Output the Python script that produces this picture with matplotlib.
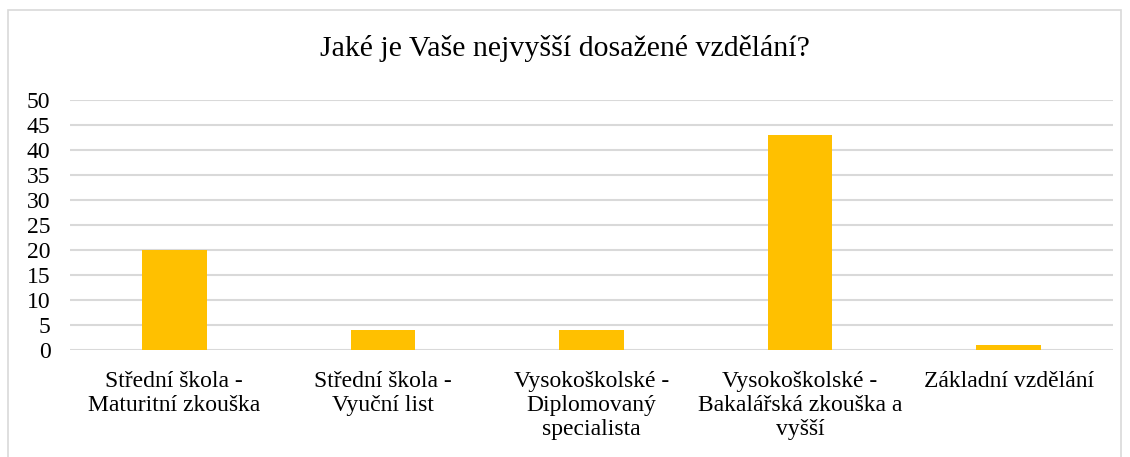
import matplotlib.pyplot as plt
from matplotlib.patches import Rectangle

# Data
categories = [
    "Střední škola -\nMaturitní zkouška",
    "Střední škola -\nVyuční list",
    "Vysokoškolské -\nDiplomovaný\nspecialista",
    "Vysokoškolské -\nBakalářská zkouška a\nvyšší",
    "Základní vzdělání",
]
counts = [20, 4, 4, 43, 1]
y_ticks = [0, 5, 10, 15, 20, 25, 30, 35, 40, 45, 50]

plt.rcParams["font.family"] = ["Liberation Serif", "DejaVu Serif"]

fig = plt.figure(figsize=(11.3, 4.57), dpi=100)
ax = fig.add_axes([70 / 1130, 107 / 457, 1043 / 1130, 250 / 457])

x = range(len(categories))
ax.bar(x, counts, width=0.31, color="#FFC000", zorder=3)

ax.set_xlim(-0.5, len(categories) - 0.5)
ax.set_ylim(0, 50)
ax.set_yticks(y_ticks)
ax.set_xticks(list(x))
ax.set_xticklabels(categories, fontsize=17, linespacing=1.2, va="top")
ax.tick_params(axis="y", labelsize=17, length=0, pad=14, colors="#000000")
ax.tick_params(axis="x", length=0, pad=15)
ax.grid(axis="y", color="#D9D9D9", linewidth=1.5, zorder=0)
for s in ax.spines.values():
    s.set_visible(False)

fig.text(0.5, 1 - 49 / 457, "Jaké je Vaše nejvyšší dosažené vzdělání?",
         ha="center", va="center", fontsize=21.5)

# chart border
fig.patches.append(Rectangle((8 / 1130, -0.01), 1 - 17 / 1130, 1 - 10 / 457 + 0.01,
                             transform=fig.transFigure,
                             fill=False, edgecolor="#D9D9D9", linewidth=1.2))

plt.savefig("out.png", dpi=100)
